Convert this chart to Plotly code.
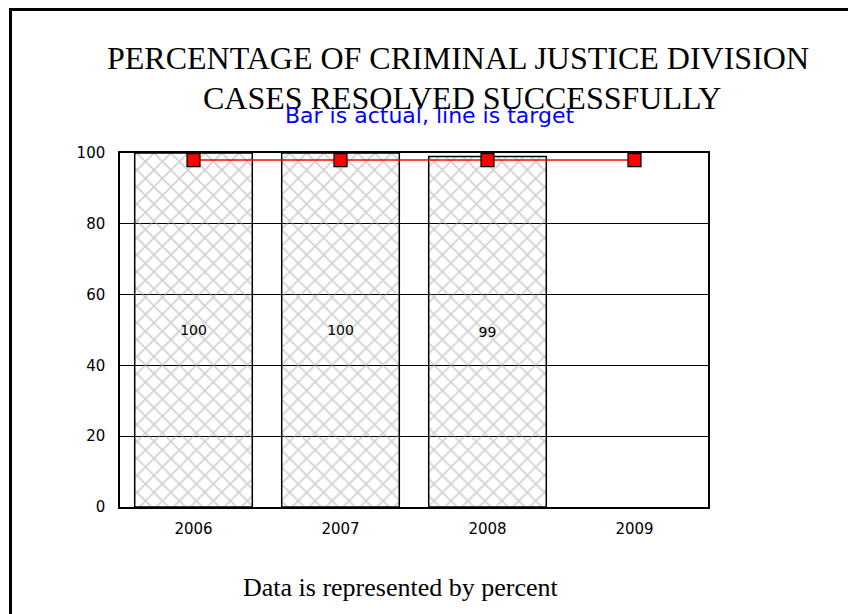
import plotly.graph_objects as go

years = ["2006", "2007", "2008", "2009"]
actual = [100, 100, 99, None]
actual_labels = ["100", "100", "99", ""]
target = [98, 98, 98, 98]
y_ticks = [0, 20, 40, 60, 80, 100]

title_line1 = "PERCENTAGE OF CRIMINAL JUSTICE DIVISION"
title_line2 = "CASES RESOLVED SUCCESSFULLY"
subtitle = "Bar is actual, line is target"
footer = "Data is represented by percent"

W, H = 856, 614
OFF = 8  # page offset of the figure
PL, PT, PR, PB = 120, 153, 708, 507  # plot area in page pixels
pw, ph = PR - PL, PB - PT


def px(x):
    return (x - PL) / pw


def py(y):
    return (PB - y) / ph


fig = go.Figure()
fig.add_trace(go.Bar(
    x=years, y=actual, width=0.8,
    text=actual_labels, textposition="inside", insidetextanchor="middle",
    textfont=dict(family="DejaVu Sans", size=14, color="black"),
    marker=dict(
        color="rgba(255,255,255,0)",
        line=dict(color="black", width=1.5),
        pattern=dict(shape="x", fgcolor="#a4a4a4", bgcolor="rgba(255,255,255,0)",
                     size=12, solidity=0.26, fillmode="overlay"),
    ),
    showlegend=False, cliponaxis=False,
))
fig.add_trace(go.Scatter(
    x=years, y=target, mode="lines+markers",
    line=dict(color="red", width=1.5),
    marker=dict(symbol="square", size=13, color="red", line=dict(color="black", width=1.2)),
    showlegend=False, cliponaxis=False,
))

fig.update_layout(
    width=W - OFF, height=H - OFF,
    margin=dict(l=PL - OFF, r=W - PR, t=PT - OFF, b=H - PB),
    paper_bgcolor="white", plot_bgcolor="white",
    bargap=0.2,
    xaxis=dict(
        type="category", categoryorder="array", categoryarray=years,
        range=[-0.5, 3.5], showgrid=False, zeroline=False,
        showline=True, linecolor="black", linewidth=1.5, mirror=True,
        ticks="", ticklabelstandoff=7,
        tickfont=dict(family="DejaVu Sans", size=15, color="black"),
    ),
    yaxis=dict(
        range=[0, 100], tickvals=y_ticks, showgrid=True, gridcolor="black", gridwidth=1,
        zeroline=False, showline=True, linecolor="black", linewidth=1.5, mirror=True,
        ticks="", ticklabelstandoff=10,
        tickfont=dict(family="DejaVu Sans", size=15, color="black"),
    ),
    shapes=[dict(type="rect", xref="paper", yref="paper",
                 x0=px(10.5), x1=px(880), y0=py(640), y1=py(9.5),
                 line=dict(color="black", width=3), layer="below")],
    annotations=[
        dict(text=title_line1, x=px(458), y=py(58), xref="paper", yref="paper",
             xanchor="center", yanchor="middle", showarrow=False,
             font=dict(family="Liberation Serif", size=32, color="black")),
        dict(text=title_line2, x=px(462), y=py(98), xref="paper", yref="paper",
             xanchor="center", yanchor="middle", showarrow=False,
             font=dict(family="Liberation Serif", size=32, color="black")),
        dict(text=subtitle, x=px(429.5), y=py(115), xref="paper", yref="paper",
             xanchor="center", yanchor="middle", showarrow=False,
             font=dict(family="DejaVu Sans", size=22, color="#0000ff")),
        dict(text=footer, x=px(401), y=py(587), xref="paper", yref="paper",
             xanchor="center", yanchor="middle", showarrow=False,
             font=dict(family="Liberation Serif", size=26, color="black")),
    ],
)

fig.write_html("out.html")
